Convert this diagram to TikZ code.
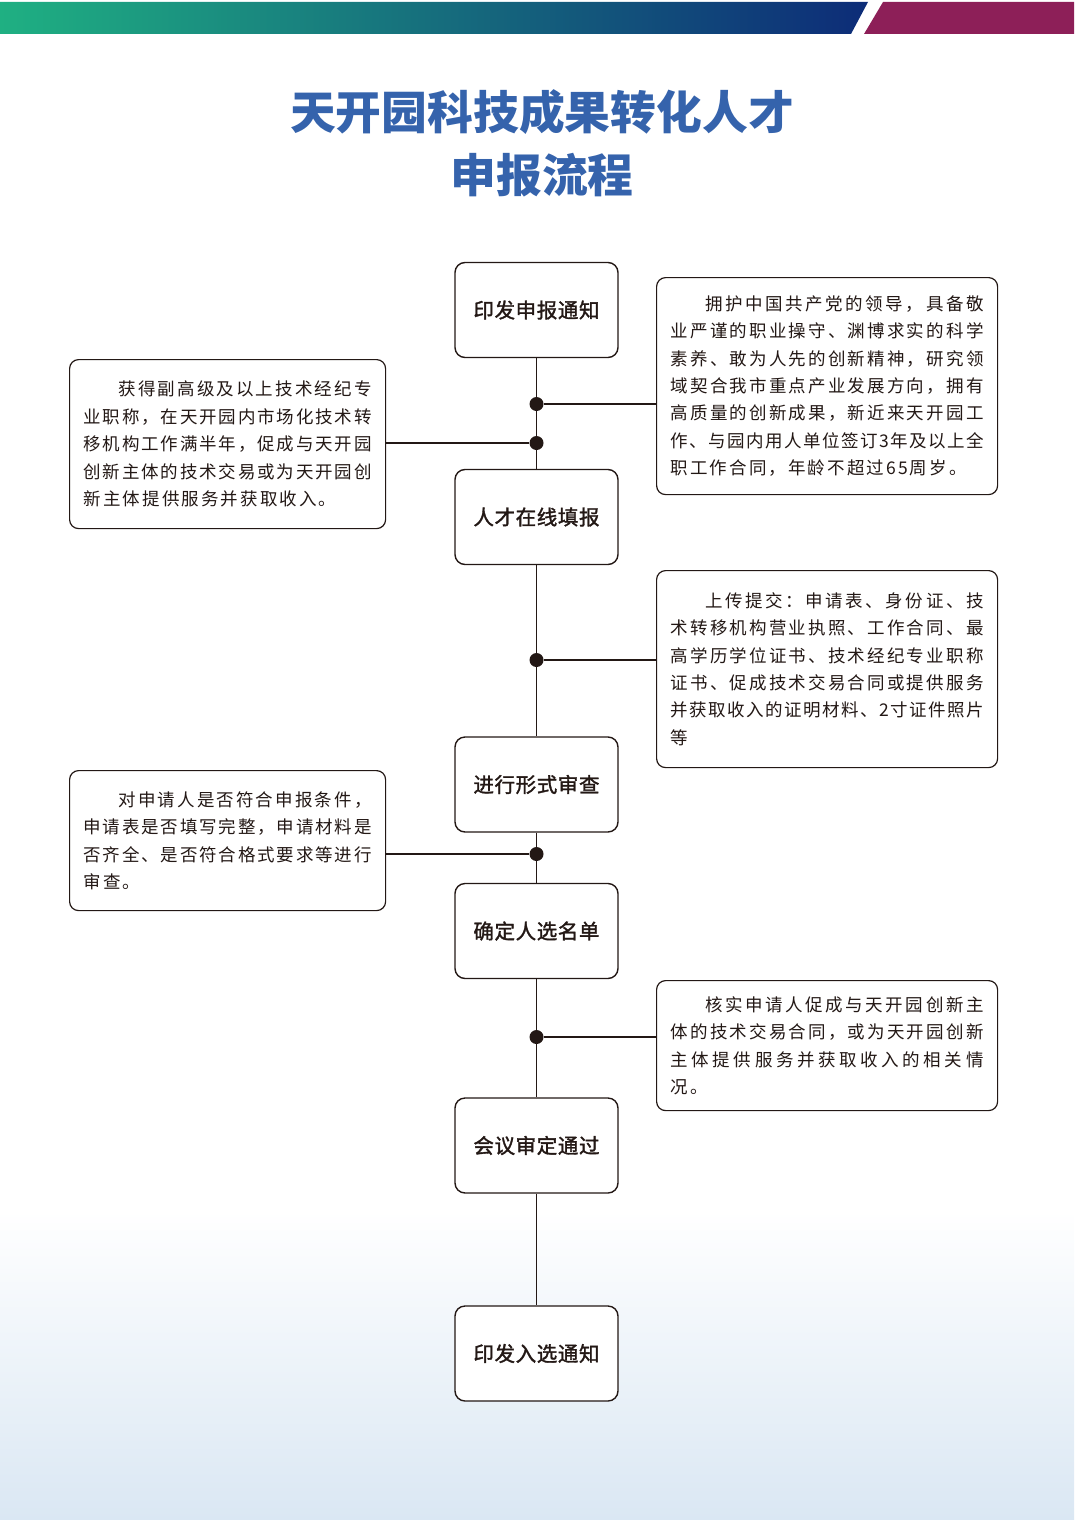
\documentclass[tikz,border=0pt]{standalone}
\usepackage{fontspec}
\setmainfont{Noto Sans CJK SC}
\newfontfamily\stepfont{Noto Sans CJK SC}[FakeBold=1.6, LetterSpace=3]
\usetikzlibrary{positioning}
\definecolor{ink}{HTML}{231815}
\definecolor{titleblue}{HTML}{3563AC}
\definecolor{barA}{HTML}{1FB082}
\definecolor{barB}{HTML}{0A82CB}
\definecolor{barC}{HTML}{0D2C78}
\definecolor{barD}{HTML}{8D1F58}
\definecolor{paleblue}{HTML}{DAE7F3}
\newdimen\linew
\newdimen\gapw
\gapw=2.1pt
\ExplSyntaxOn
% justified line, first line with indent, last line with plain spacing
\NewDocumentCommand\jline{m}{\hbox_to_wd:nn{\linew}{\tl_map_inline:nn{#1}{##1\hfil}\unskip}}
\NewDocumentCommand\fline{m}{\hbox_to_wd:nn{\linew}{\hskip2em\tl_map_inline:nn{#1}{##1\hfil}\unskip}}
\NewDocumentCommand\sline{m}{\hbox:n{\tl_map_inline:nn{#1}{##1\hskip\gapw}\unskip}}
\ExplSyntaxOff
\tikzset{
        stepbox/.style={draw=ink, line width=1.4pt, fill=white, rounded corners=10pt,
          minimum width=163pt, minimum height=95pt, text=ink,
          font=\fontsize{20.5}{24}\stepfont}, % boxes of the main flow
        notebox/.style={draw=ink, line width=1.2pt, fill=white, rounded corners=9pt,
          inner xsep=14pt, inner ysep=0pt, align=left, anchor=north west, text=ink,
          font=\fontsize{17.5}{27.4}\selectfont}, % side notes
        joint/.style={circle, fill=ink, inner sep=0pt, minimum size=14pt},
        link/.style={draw=ink, line width=1.4pt},
}

\begin{document}
\begin{tikzpicture}[x=1pt,y=-1pt]
      \useasboundingbox (0,0) rectangle (1074,1520);
      % background
      \shade[top color=white, bottom color=paleblue] (0,1210) rectangle (1074,1520);
      \shade[left color=barA, middle color=barB, right color=barC] (0,2) -- (868,2) -- (851,34) -- (0,34) -- cycle;
      \fill[barD] (883,2) -- (1074,2) -- (1074,34) -- (864,34) -- cycle;
      \node[text=titleblue, font=\fontsize{45.8}{63}\selectfont\bfseries, align=center] (title) at (542,143.5)
        {天开园科技成果转化人才\\申报流程};

      % main flow
      \node[stepbox] (s1) at (536.5,310) {印发申报通知};
      \node[stepbox] (s2) at (536.5,517) {人才在线填报};
      \node[stepbox] (s3) at (536.5,784.5) {进行形式审查};
      \node[stepbox] (s4) at (536.5,931) {确定人选名单};
      \node[stepbox] (s5) at (536.5,1145.5) {会议审定通过};
      \node[stepbox] (s6) at (536.5,1353.5) {印发入选通知};
      \draw[link] (s1) -- (s2);
      \draw[link] (s2) -- (s3);
      \draw[link] (s3) -- (s4);
      \draw[link] (s4) -- (s5);
      \draw[link] (s5) -- (s6);

      % notes
      \linew=313pt
      \node[notebox, minimum height=217pt] (r1) at (656,277) {%
        \fline{拥护中国共产党的领导，具备敬}\\
        \jline{业严谨的职业操守、渊博求实的科学}\\
        \jline{素养、敢为人先的创新精神，研究领}\\
        \jline{域契合我市重点产业发展方向，拥有}\\
        \jline{高质量的创新成果，新近来天开园工}\\
        \jline{作、与园内用人单位签订3年及以上全}\\
        \sline{职工作合同，年龄不超过65周岁。}};
      \node[notebox, minimum height=197pt] (r2) at (656,570) {%
        \fline{上传提交：申请表、身份证、技}\\
        \jline{术转移机构营业执照、工作合同、最}\\
        \jline{高学历学位证书、技术经纪专业职称}\\
        \jline{证书、促成技术交易合同或提供服务}\\
        \jline{并获取收入的证明材料、2寸证件照片}\\
        \sline{等}};
      \node[notebox, minimum height=130pt] (r3) at (656,980) {%
        \fline{核实申请人促成与天开园创新主}\\
        \jline{体的技术交易合同，或为天开园创新}\\
        \jline{主体提供服务并获取收入的相关情}\\
        \sline{况。}};
      \linew=288pt
      \node[notebox, minimum height=169pt] (l1) at (69,359) {%
        \fline{获得副高级及以上技术经纪专}\\
        \jline{业职称，在天开园内市场化技术转}\\
        \jline{移机构工作满半年，促成与天开园}\\
        \jline{创新主体的技术交易或为天开园创}\\
        \sline{新主体提供服务并获取收入。}};
      \node[notebox, minimum height=140pt] (l2) at (69,770) {%
        \fline{对申请人是否符合申报条件，}\\
        \jline{申请表是否填写完整，申请材料是}\\
        \jline{否齐全、是否符合格式要求等进行}\\
        \sline{审查。}};

      % joints on the flow line
      \node[joint] (j1) at (536.5,404) {};
      \node[joint] (j2) at (536.5,443) {};
      \node[joint] (j3) at (536.5,660) {};
      \node[joint] (j4) at (536.5,854) {};
      \node[joint] (j5) at (536.5,1037) {};
      \draw[link] (j1) -- (j1 -| r1.west);
      \draw[link] (j2) -- (j2 -| l1.east);
      \draw[link] (j3) -- (j3 -| r2.west);
      \draw[link] (j4) -- (j4 -| l2.east);
      \draw[link] (j5) -- (j5 -| r3.west);
\end{tikzpicture}
\end{document}
